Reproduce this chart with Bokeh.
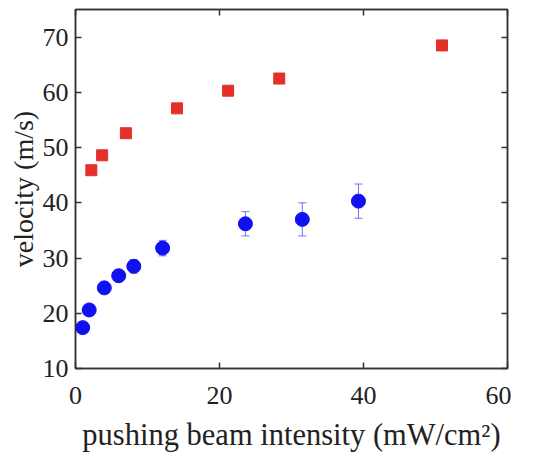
from bokeh.plotting import figure
from bokeh.models import ColumnDataSource, Whisker, LinearAxis, FixedTicker, Range1d
from bokeh.embed import file_html
from bokeh.resources import INLINE

# red squares
red_x = [2.2, 3.7, 7.0, 14.1, 21.2, 28.3, 50.9]
red_y = [45.9, 48.6, 52.6, 57.1, 60.3, 62.5, 68.5]

# blue circles with error bars
blue_x = [1.0, 1.9, 4.0, 6.0, 8.1, 12.1, 23.6, 31.5, 39.3]
blue_y = [17.4, 20.6, 24.6, 26.8, 28.5, 31.8, 36.2, 37.0, 40.3]
blue_err = [0.5, 0.5, 0.6, 0.8, 1.2, 1.4, 2.2, 3.0, 3.1]

x_ticks = [0, 20, 40, 60]
y_ticks = [10, 20, 30, 40, 50, 60, 70]

FONT = "Liberation Serif"
DARK = "#333333"

p = figure(frame_width=432, frame_height=359, output_backend="svg", toolbar_location=None,
           x_range=Range1d(0, 60), y_range=Range1d(10, 75),
           min_border_left=75, min_border_top=9, min_border_right=4, min_border_bottom=2)
p.grid.visible = False
p.outline_line_color = DARK
p.outline_line_width = 1.5

for ax in [p.xaxis[0], p.yaxis[0]]:
    ax.major_label_text_font = FONT
    ax.major_label_text_font_size = "26px"
    ax.major_label_text_color = "#222222"
    ax.axis_label_text_font = FONT
    ax.axis_label_text_font_style = "normal"
    ax.axis_label_text_color = "#222222"
    ax.major_tick_in = 6
    ax.major_tick_out = 0
    ax.minor_tick_line_color = None
    ax.axis_line_color = DARK
    ax.major_tick_line_color = DARK
    ax.major_tick_line_width = 1.5
    ax.axis_line_width = 1.5

p.xaxis[0].ticker = FixedTicker(ticks=x_ticks)
p.yaxis[0].ticker = FixedTicker(ticks=y_ticks)
p.xaxis[0].axis_label = "pushing beam intensity (mW/cm\u00b2)"
p.yaxis[0].axis_label = "velocity (m/s)"
p.xaxis[0].axis_label_text_font_size = "30.5px"
p.yaxis[0].axis_label_text_font_size = "28px"
p.xaxis[0].major_label_standoff = 18
p.yaxis[0].major_label_standoff = 7
p.xaxis[0].axis_label_standoff = 11
p.yaxis[0].axis_label_standoff = 1

for loc, ticks in [("above", x_ticks), ("right", y_ticks)]:
    ax = LinearAxis(ticker=FixedTicker(ticks=ticks),
                    major_label_overrides={t: "" for t in ticks},
                    major_label_text_font_size="2px", major_label_standoff=0,
                    major_tick_in=6, major_tick_out=0, minor_tick_line_color=None,
                    axis_line_color=DARK, axis_line_width=1.5,
                    major_tick_line_color=DARK, major_tick_line_width=1.5)
    p.add_layout(ax, loc)

bsrc = ColumnDataSource(dict(x=blue_x, y=blue_y,
                             lo=[y - e for y, e in zip(blue_y, blue_err)],
                             hi=[y + e for y, e in zip(blue_y, blue_err)]))
w = Whisker(source=bsrc, base="x", lower="lo", upper="hi",
            line_color="#7070ff", line_width=1)
w.upper_head.line_color = "#7070ff"
w.lower_head.line_color = "#7070ff"
w.upper_head.size = 8
w.lower_head.size = 8
p.add_layout(w)

p.scatter(blue_x, blue_y, marker="circle", size=14, fill_color="#1010f0", line_color="#1010f0")
p.scatter(red_x, red_y, marker="square", size=11, fill_color="#e3302a", line_color="#e3302a")

open("out.html", "w").write(file_html(p, INLINE))
